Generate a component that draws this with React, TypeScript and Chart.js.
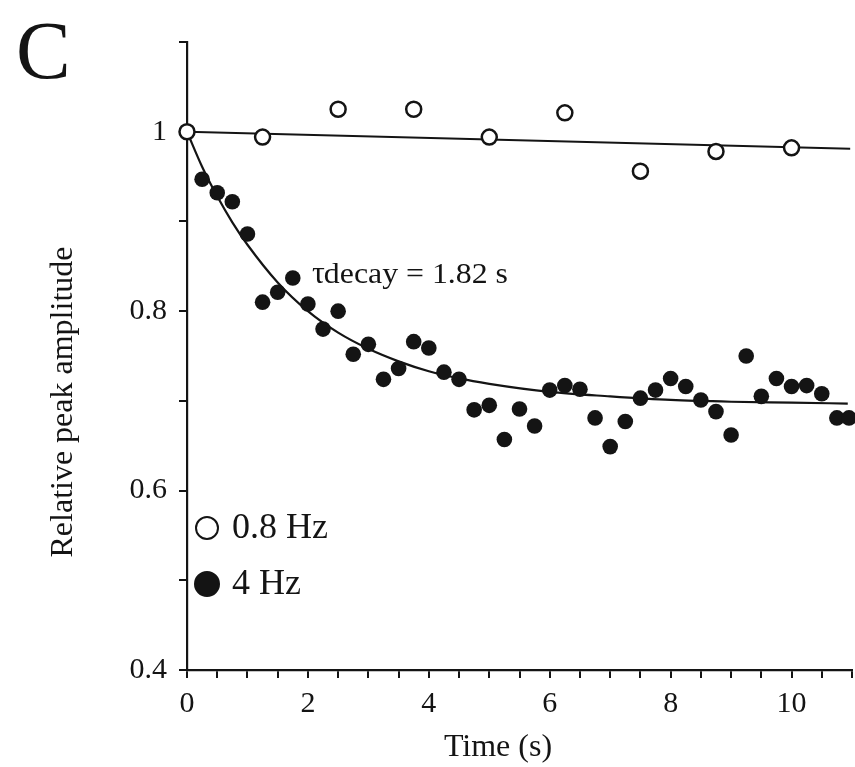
import React, { useEffect, useRef } from "react";
import { Chart, registerables } from "chart.js";

Chart.register(...registerables);

// ---- data ----
const openTimes = [0, 1.25, 2.5, 3.75, 5, 6.25, 7.5, 8.75, 10];
const openAmps = [1.0, 0.994, 1.025, 1.025, 0.994, 1.021, 0.956, 0.978, 0.982];

const filledTimes = [
  0.25, 0.5, 0.75, 1.0, 1.25, 1.5, 1.75, 2.0, 2.25, 2.5, 2.75, 3.0, 3.25, 3.5, 3.75,
  4.0, 4.25, 4.5, 4.75, 5.0, 5.25, 5.5, 5.75, 6.0, 6.25, 6.5, 6.75, 7.0, 7.25, 7.5,
  7.75, 8.0, 8.25, 8.5, 8.75, 9.0, 9.25, 9.5, 9.75, 10.0, 10.25, 10.5, 10.75, 10.95,
];
const filledAmps = [
  0.947, 0.932, 0.922, 0.886, 0.81, 0.821, 0.837, 0.808, 0.78, 0.8, 0.752, 0.763,
  0.724, 0.736, 0.766, 0.759, 0.732, 0.724, 0.69, 0.695, 0.657, 0.691, 0.672, 0.712,
  0.717, 0.713, 0.681, 0.649, 0.677, 0.703, 0.712, 0.725, 0.716, 0.701, 0.688, 0.662,
  0.75, 0.705, 0.725, 0.716, 0.717, 0.708, 0.681, 0.681,
];

// fitted curves
const openFitTimes = [0, 10.97];
const openFitAmps = [1.0, 0.981];

const decayFitTimes = [0, 0.25, 0.5, 0.75, 1, 1.5, 2, 2.5, 3, 3.5, 4, 4.5, 5, 6, 7, 8, 9, 10, 10.93];
const decayFitAmps = [
  1.0, 0.961, 0.928, 0.899, 0.874, 0.832, 0.8, 0.776, 0.758, 0.744, 0.733, 0.725,
  0.719, 0.71, 0.705, 0.701, 0.699, 0.698, 0.697,
];

const yLabelTicks = [0.4, 0.6, 0.8, 1.0];
const xLabelTicks = [0, 2, 4, 6, 8, 10];

const panelLetter = "C";
const tauSymbol = "τ";
const tauText = "decay = 1.82 s";
const xTitle = "Time (s)";
const yTitle = "Relative peak amplitude";
const openLabel = "0.8 Hz";
const filledLabel = "4 Hz";

const FONT = "'Liberation Serif', 'Times New Roman', Times, serif";
const INK = "#141414";

const zip = (xs: number[], ys: number[]) => xs.map((x, i) => ({ x, y: ys[i] }));

const textPlugin = {
  id: "figureText",
  afterDraw(chart: any) {
    const ctx = chart.ctx as CanvasRenderingContext2D;
    ctx.save();
    ctx.fillStyle = INK;
    ctx.strokeStyle = INK;
    ctx.textAlign = "left";
    ctx.textBaseline = "alphabetic";

    // panel letter
    ctx.font = `82px ${FONT}`;
    ctx.fillText(panelLetter, 16, 78);

    // tau annotation (stretched to the width seen in the figure)
    ctx.font = `32px ${FONT}`;
    ctx.fillText(tauSymbol, 312, 283);
    const tw = ctx.measureText(tauSymbol).width;
    ctx.font = `29px ${FONT}`;
    const startX = 312 + tw - 1;
    const natural = ctx.measureText(tauText).width;
    const target = 508 - startX;
    ctx.save();
    ctx.translate(startX, 283);
    ctx.scale(target / natural, 1);
    ctx.fillText(tauText, 0, 0);
    ctx.restore();

    // axis titles
    ctx.font = `32px ${FONT}`;
    ctx.textAlign = "center";
    ctx.textBaseline = "middle";
    ctx.fillText(xTitle, 498, 748);
    ctx.save();
    ctx.translate(64, 402);
    ctx.rotate(-Math.PI / 2);
    ctx.fillText(yTitle, 0, 0);
    ctx.restore();

    // legend, built from the datasets
    const items = chart.data.datasets
      .filter((d: any) => d.legendRow !== undefined)
      .sort((a: any, b: any) => a.legendRow - b.legendRow);
    items.forEach((d: any, i: number) => {
      const cy = 528 + i * 56;
      const cx = 207;
      ctx.beginPath();
      ctx.arc(cx, cy, d.legendRadius, 0, Math.PI * 2);
      ctx.fillStyle = d.pointBackgroundColor;
      ctx.fill();
      ctx.lineWidth = 2;
      ctx.strokeStyle = INK;
      ctx.stroke();
      ctx.fillStyle = INK;
      ctx.font = `36px ${FONT}`;
      ctx.textAlign = "left";
      ctx.textBaseline = "middle";
      ctx.fillText(d.label, 232, cy + 1);
    });
    ctx.restore();
  },
};

export default function App() {
  const canvasRef = useRef<HTMLCanvasElement | null>(null);

  useEffect(() => {
    if (!canvasRef.current) return;
    const chart = new Chart(canvasRef.current, {
      type: "scatter",
      data: {
        datasets: [
          {
            label: "0.8 Hz fit",
            data: zip(openFitTimes, openFitAmps),
            showLine: true,
            borderColor: INK,
            borderWidth: 2,
            pointRadius: 0,
            fill: false,
            order: 3,
            clip: false,
          } as any,
          {
            label: "4 Hz fit",
            data: zip(decayFitTimes, decayFitAmps),
            showLine: true,
            borderColor: INK,
            borderWidth: 2.2,
            pointRadius: 0,
            cubicInterpolationMode: "monotone",
            fill: false,
            order: 3,
            clip: false,
          } as any,
          {
            label: filledLabel,
            data: zip(filledTimes, filledAmps),
            pointRadius: 7.8,
            pointBackgroundColor: INK,
            pointBorderColor: INK,
            pointBorderWidth: 0,
            showLine: false,
            order: 2,
            clip: false,
            legendRow: 1,
            legendRadius: 12,
          } as any,
          {
            label: openLabel,
            data: zip(openTimes, openAmps),
            pointRadius: 7.5,
            pointBackgroundColor: "#ffffff",
            pointBorderColor: INK,
            pointBorderWidth: 2.5,
            showLine: false,
            order: 1,
            clip: false,
            legendRow: 0,
            legendRadius: 11,
          } as any,
        ],
      },
      options: {
        animation: false,
        responsive: true,
        maintainAspectRatio: false,
        layout: { autoPadding: false, padding: { top: 42, right: 3, left: 0, bottom: 0 } },
        plugins: {
          legend: { display: false },
          tooltip: { enabled: false },
          title: { display: false },
        },
        scales: {
          x: {
            type: "linear",
            min: 0,
            max: 11,
            afterFit: (s: any) => {
              s.height = 97;
              s.paddingLeft = 0;
              s.paddingRight = 0;
            },
            border: { display: true, color: INK, width: 2.2 },
            grid: {
              drawOnChartArea: false,
              drawTicks: true,
              tickLength: 8,
              color: INK,
              lineWidth: 2,
            },
            ticks: {
              stepSize: 0.5,
              autoSkip: false,
              maxRotation: 0,
              padding: 8,
              color: INK,
              font: { family: FONT, size: 30 },
              callback: (v: any) => {
                const r = Math.round(Number(v) * 10) / 10;
                return xLabelTicks.includes(r) ? String(r) : "";
              },
            },
          },
          y: {
            type: "linear",
            min: 0.4,
            max: 1.1,
            afterFit: (s: any) => {
              s.width = 187;
              s.paddingTop = 0;
              s.paddingBottom = 0;
            },
            border: { display: true, color: INK, width: 2.2 },
            grid: {
              drawOnChartArea: false,
              drawTicks: true,
              tickLength: 8,
              color: INK,
              lineWidth: 2,
            },
            ticks: {
              stepSize: 0.1,
              autoSkip: false,
              padding: 12,
              color: INK,
              font: { family: FONT, size: 30 },
              callback: (v: any) => {
                const r = Math.round(Number(v) * 10) / 10;
                return yLabelTicks.includes(r) ? String(r) : "";
              },
            },
          },
        },
      } as any,
      plugins: [textPlugin],
    });
    return () => chart.destroy();
  }, []);

  return (
    <div
      style={{
        position: "absolute",
        left: 0,
        top: 0,
        width: 855,
        height: 767,
        background: "#ffffff",
      }}
    >
      <canvas ref={canvasRef} />
    </div>
  );
}
